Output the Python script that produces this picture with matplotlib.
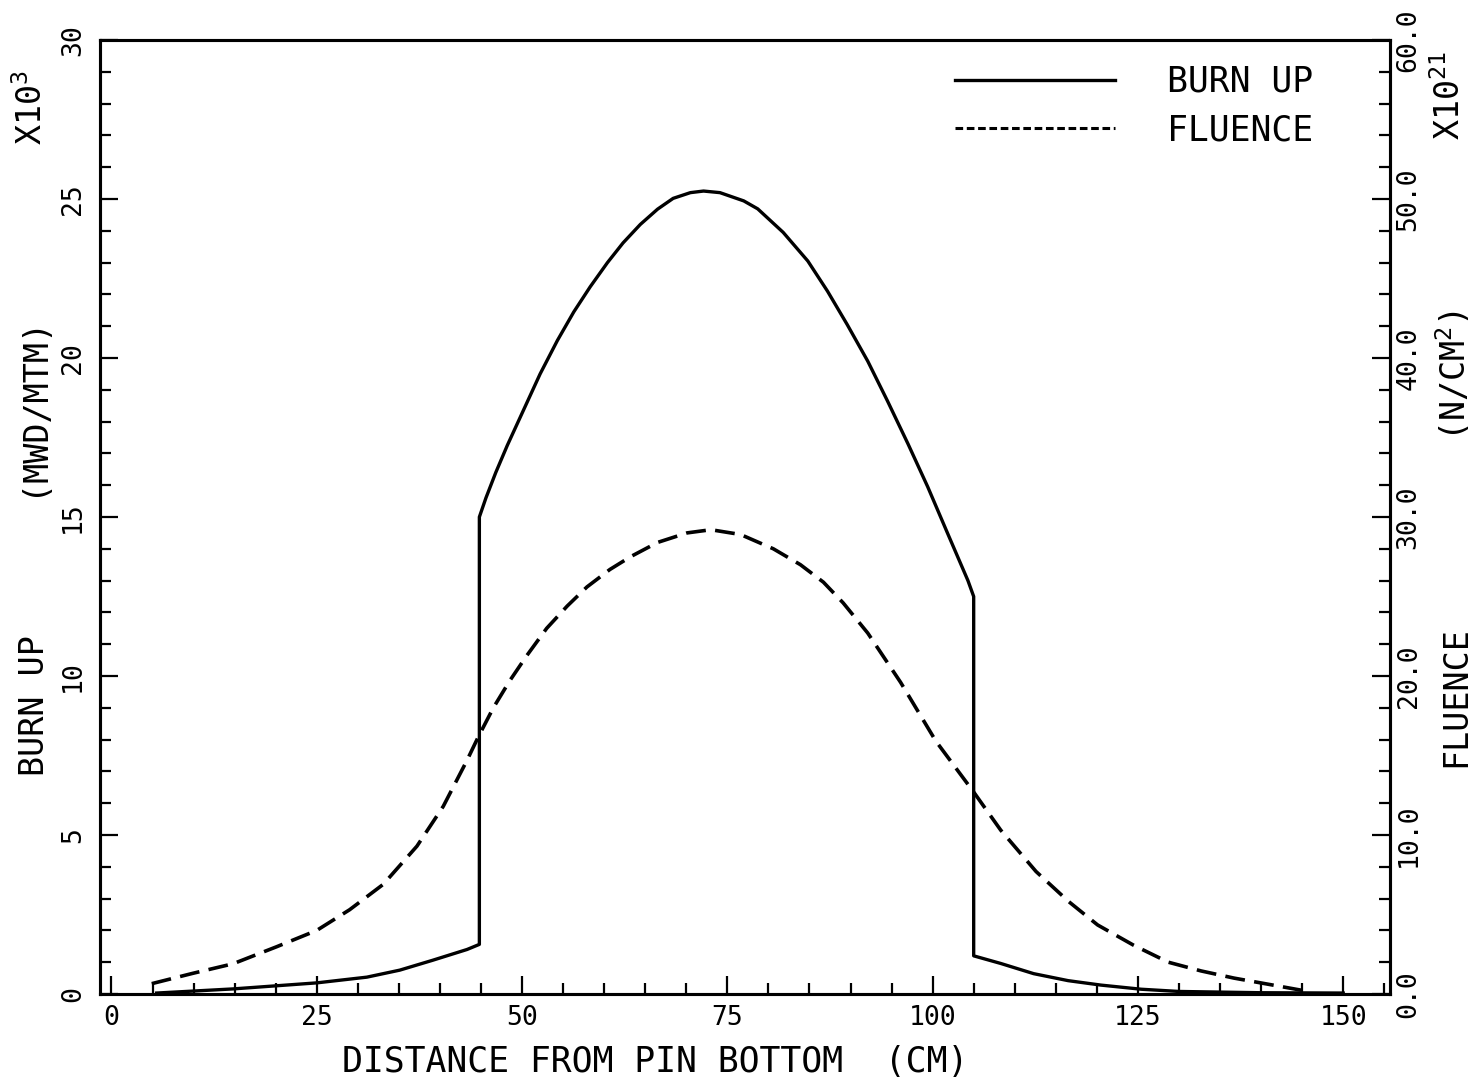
#!/usr/bin/env python3
"""
Burn up and fluence along the pin (plotter style chart)
"""
import matplotlib
matplotlib.use("Agg")
import matplotlib.pyplot as plt
from matplotlib.lines import Line2D
from matplotlib.ticker import MultipleLocator, FixedLocator, FormatStrFormatter

# Burn up (MWD/MTM, x10^3) vs distance from pin bottom (cm)
burnup_x = [5.5, 14.8, 25.0, 31.1, 35.1, 39.1, 43.3, 44.8, 44.8, 45.6, 46.8,
            48.2, 50.6, 52.2, 54.3, 56.3, 58.3, 60.4, 62.3, 64.4, 66.5, 68.4,
            70.5, 72.1, 74.1, 77.0, 78.7, 81.8, 84.8, 87.2, 89.6, 92.1, 94.5,
            97.0, 99.4, 101.8, 104.3, 105.0, 105.0, 108.3, 112.3, 116.5,
            120.5, 125.4, 130.0, 140.0, 150.0]
burnup_y = [0.03, 0.16, 0.35, 0.53, 0.75, 1.06, 1.40, 1.56, 15.0, 15.6, 16.4,
            17.25, 18.6, 19.5, 20.55, 21.45, 22.24, 23.0, 23.62, 24.2, 24.68,
            25.02, 25.2, 25.25, 25.2, 24.94, 24.69, 23.95, 23.05, 22.1, 21.05,
            19.9, 18.65, 17.3, 15.95, 14.5, 13.0, 12.5, 1.2, 0.96, 0.64, 0.42,
            0.28, 0.15, 0.08, 0.04, 0.03]

# Fluence (N/CM2, x10^21)
fluence_x = [4.9, 9.9, 14.8, 20.1, 25.0, 29.0, 33.1, 37.2, 40.4, 43.3, 44.6,
             46.5, 48.5, 50.6, 53.0, 55.5, 57.9, 60.7, 63.2, 66.5, 70.1, 73.0,
             76.6, 80.6, 83.9, 86.7, 89.1, 92.1, 96.1, 100.4, 105.0, 108.3,
             112.6, 116.6, 120.1, 124.5, 128.7, 132.7, 136.7, 140.8, 145.1]
fluence_y = [0.65, 1.3, 1.9, 2.97, 4.0, 5.3, 6.9, 9.3, 11.8, 14.7, 16.1,
             18.0, 19.7, 21.3, 23.0, 24.4, 25.6, 26.7, 27.5, 28.4, 29.0, 29.2,
             28.9, 28.0, 27.0, 25.9, 24.6, 22.7, 19.6, 15.9, 12.7, 10.3,
             7.7, 5.8, 4.34, 3.06, 2.0, 1.45, 1.0, 0.62, 0.22]

x_ticks = [0, 25, 50, 75, 100, 125, 150]
left_ticks = [0, 5, 10, 15, 20, 25, 30]
right_ticks = [0, 10, 20, 30, 40, 50, 60]

plt.rcParams['font.family'] = ['DejaVu Sans Mono', 'DejaVu Sans']
plt.rcParams['mathtext.fontset'] = 'custom'
plt.rcParams['mathtext.rm'] = 'DejaVu Sans Mono'
plt.rcParams['mathtext.default'] = 'regular'

fig = plt.figure(figsize=(14.72, 10.86), dpi=100)
ax = fig.add_axes([100 / 1472, 1 - 994 / 1086, 1290 / 1472, 954 / 1086])
ax2 = ax.twinx()

ax.plot(burnup_x, burnup_y, color='black', lw=2.4, solid_joinstyle='round')
ax2.plot(fluence_x, fluence_y, color='black', lw=2.6, dashes=(5.5, 2.6))

ax.set_xlim(-1.4, 155.7)
ax.set_ylim(0, 30)
ax2.set_ylim(0, 60)

ax.xaxis.set_major_locator(FixedLocator(x_ticks))
ax.xaxis.set_minor_locator(MultipleLocator(5))
ax.yaxis.set_major_locator(FixedLocator(left_ticks))
ax.yaxis.set_minor_locator(MultipleLocator(1))
ax2.yaxis.set_major_locator(FixedLocator(right_ticks))
ax2.yaxis.set_minor_locator(MultipleLocator(2))
ax2.yaxis.set_major_formatter(FormatStrFormatter('%.1f'))

for a in (ax, ax2):
    for s in a.spines.values():
        s.set_linewidth(2.2)
    a.tick_params(which='both', direction='in', width=1.6)
    a.tick_params(which='major', length=13)
    a.tick_params(which='minor', length=8)

ax.tick_params(axis='x', labelsize=19, pad=8, top=False)
ax.tick_params(axis='y', labelsize=19, pad=10, right=False)
ax2.tick_params(axis='y', labelsize=19, pad=4)
for lab in ax.get_yticklabels() + ax2.get_yticklabels():
    lab.set_rotation(90)
    lab.set_va('center')

# legend
handles = [Line2D([], [], color='black', lw=2.4),
           Line2D([], [], color='black', lw=2.2, dashes=(2.5, 1.2))]
ax.legend(handles, ['BURN UP', 'FLUENCE'], loc='upper left',
          bbox_to_anchor=(0.663, 0.974), frameon=False, fontsize=25,
          handlelength=4.6, handletextpad=1.5, labelspacing=0.42,
          borderpad=0, borderaxespad=0)

# axis titles
W, H = 1472, 1086
fig.text(655 / W, 1 - 1062 / H, 'DISTANCE FROM PIN BOTTOM  (CM)', fontsize=25,
         ha='center', va='center')
fig.text(35 / W, 1 - 706 / H, 'BURN UP', fontsize=24, rotation=90,
         ha='center', va='center')
fig.text(33 / W, 1 - 405 / H, '(MWD/MTM)', fontsize=24, rotation=90,
         ha='center', va='center')
fig.text(32 / W, 1 - 108 / H, 'X10$^{3}$', fontsize=24, rotation=90,
         ha='center', va='center')
fig.text(1456 / W, 1 - 697 / H, 'FLUENCE', fontsize=24, rotation=90,
         ha='center', va='center')
fig.text(1454 / W, 1 - 376 / H, '(N/CM$^{2}$)', fontsize=24, rotation=90,
         ha='center', va='center')
fig.text(1450 / W, 1 - 95 / H, 'X10$^{21}$', fontsize=24, rotation=90,
         ha='center', va='center')

fig.savefig('out.png', dpi=100)
